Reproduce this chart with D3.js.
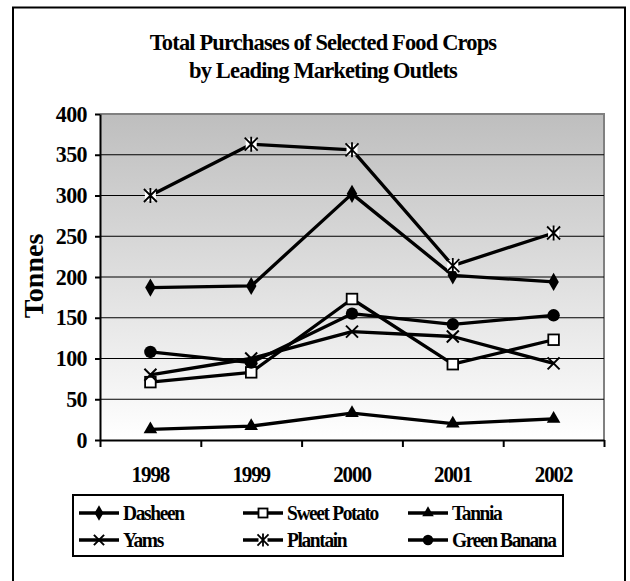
<!DOCTYPE html>
<html>
<head>
<meta charset="utf-8">
<script src="https://cdn.jsdelivr.net/npm/d3@7"></script>
<style>
  body { margin: 0; background: #fff; }
  svg { display: block; }
</style>
</head>
<body>
<div id="chart"></div>
<script>
// data (tonnes)
const years = ["1998", "1999", "2000", "2001", "2002"]
const yTicks = [0, 50, 100, 150, 200, 250, 300, 350, 400]
const dasheen = [187, 189, 302, 202, 194]
const sweetPotato = [71, 83, 173, 93, 123]
const tannia = [13, 17, 33, 20, 26]
const yams = [80, 100, 133, 127, 94]
const plantain = [300, 363, 356, 214, 254]
const greenBanana = [108, 95, 155, 142, 153]

const seriesNames = ["Dasheen", "Sweet Potato", "Tannia", "Yams", "Plantain", "Green Banana"]
const seriesValues = [dasheen, sweetPotato, tannia, yams, plantain, greenBanana]
const seriesMarks = ["diamond", "square", "triangle", "cross", "star", "circle"]

const W = 630, H = 581
const font = '"Liberation Serif", "Times New Roman", Times, serif'

const svg = d3.select("#chart").append("svg").attr("width", W).attr("height", H)

// outer frame (bottom edge runs off the picture)
svg.append("rect").attr("x", 13).attr("y", 7.5).attr("width", 612).attr("height", 590)
  .attr("fill", "#fff").attr("stroke", "#000").attr("stroke-width", 2)

const x = d3.scaleBand().domain(years).range([100, 604])
const y = d3.scaleLinear().domain([0, 400]).range([440, 114])
const cx = d => x(d) + x.bandwidth() / 2

// grey to white background
const grad = svg.append("defs").append("linearGradient").attr("id", "bg")
  .attr("x1", 0).attr("y1", 0).attr("x2", 0).attr("y2", 1)
grad.append("stop").attr("offset", 0).attr("stop-color", "#bebebe")
grad.append("stop").attr("offset", 1).attr("stop-color", "#ffffff")

svg.append("rect").attr("x", 100).attr("y", y(400)).attr("width", 504).attr("height", y(0) - y(400))
  .attr("fill", "url(#bg)")

// plot area top and right edge in grey
svg.append("path").attr("d", `M100,${y(400)}H604V440`).attr("fill", "none")
  .attr("stroke", "#808080").attr("stroke-width", 2)

// gridlines
svg.append("g").selectAll("line").data(yTicks.filter(t => t > 0 && t < 400)).join("line")
  .attr("x1", 100).attr("x2", 604).attr("y1", d => y(d)).attr("y2", d => y(d))
  .attr("stroke", "#000").attr("stroke-width", 1)

// axes (ticks only, labels drawn below)
const yAxis = svg.append("g").attr("transform", "translate(100,0)")
  .call(d3.axisLeft(y).tickValues(yTicks).tickSize(5).tickSizeOuter(0).tickFormat(""))
yAxis.selectAll("path,line").attr("stroke", "#000").attr("stroke-width", 2)

const xAxis = svg.append("g").attr("transform", "translate(0,440)")
  .call(d3.axisBottom(d3.scaleLinear().domain([0, 5]).range([100, 604]))
    .tickValues([0, 1, 2, 3, 4, 5]).tickSize(7).tickSizeOuter(0).tickFormat(""))
xAxis.selectAll("path,line").attr("stroke", "#000").attr("stroke-width", 2)

function label(x0, y0, txt, size, sy, ls, anchor) {
  return svg.append("text")
    .attr("transform", `translate(${x0},${y0}) scale(1,${sy})`)
    .attr("text-anchor", anchor)
    .style("font-family", font).style("font-weight", "bold").style("font-size", size + "px")
    .style("letter-spacing", ls + "px")
    .attr("fill", "#000")
    .text(txt)
}

yTicks.forEach(t => label(87, y(t) + 7.5, t, 22, 1.04, -0.6, "end"))
years.forEach(d => label(cx(d), 481.5, d, 21, 1.06, -1.1, "middle"))

label(323, 49.5, "Total Purchases of Selected Food Crops", 22.5, 1.03, -0.85, "middle")
label(323, 78, "by Leading Marketing Outlets", 22.5, 1.03, -0.85, "middle")

svg.append("text")
  .attr("transform", "translate(43,276) rotate(-90)")
  .attr("text-anchor", "middle")
  .style("font-family", font).style("font-weight", "bold").style("font-size", "28px")
  .text("Tonnes")

// markers
function drawMark(g, kind, px, py, s) {
  if (kind === "diamond") {
    g.append("path").attr("d", d3.symbol(d3.symbolDiamond, 95 * s * s)())
      .attr("transform", `translate(${px},${py})`).attr("fill", "#000")
  } else if (kind === "triangle") {
    g.append("path").attr("d", d3.symbol(d3.symbolTriangle, 80 * s * s)())
      .attr("transform", `translate(${px},${py})`).attr("fill", "#000")
  } else if (kind === "circle") {
    g.append("circle").attr("cx", px).attr("cy", py).attr("r", 6.2 * s).attr("fill", "#000")
  } else if (kind === "square") {
    const h = 5.3 * s
    g.append("rect").attr("x", px - h).attr("y", py - h).attr("width", 2 * h).attr("height", 2 * h)
      .attr("fill", "#fff").attr("stroke", "#000").attr("stroke-width", 1.8)
  } else if (kind === "cross") {
    const h = 6 * s
    g.append("path").attr("d", `M${px - h},${py - h}L${px + h},${py + h}M${px - h},${py + h}L${px + h},${py - h}`)
      .attr("stroke", "#000").attr("stroke-width", 2).attr("fill", "none")
  } else if (kind === "star") {
    const h = 6.5 * s
    g.append("rect").attr("x", px - h + 1).attr("y", py - h + 1).attr("width", 2 * h - 2).attr("height", 2 * h - 2)
      .attr("fill", "#fff")
    g.append("path").attr("d", `M${px - h},${py - h}L${px + h},${py + h}M${px - h},${py + h}L${px + h},${py - h}M${px},${py - h - 1}V${py + h + 1}`)
      .attr("stroke", "#000").attr("stroke-width", 1.8).attr("fill", "none")
  }
}

const line = d3.line().x((d, i) => cx(years[i])).y(d => y(d))

seriesValues.forEach((vals, k) => {
  const g = svg.append("g")
  g.append("path").attr("d", line(vals)).attr("fill", "none")
    .attr("stroke", "#000").attr("stroke-width", 3.3).attr("stroke-linejoin", "round")
  vals.forEach((v, i) => drawMark(g, seriesMarks[k], cx(years[i]), y(v), 1))
})

// legend
svg.append("rect").attr("x", 73).attr("y", 495).attr("width", 490).attr("height", 61)
  .attr("fill", "#fff").attr("stroke", "#000").attr("stroke-width", 2)

const legCols = [79, 243, 408]
const legRows = [513, 540]
seriesNames.forEach((name, k) => {
  const lx = legCols[k % 3], ly = legRows[Math.floor(k / 3)]
  const g = svg.append("g")
  g.append("line").attr("x1", lx).attr("x2", lx + 40).attr("y1", ly).attr("y2", ly)
    .attr("stroke", "#000").attr("stroke-width", 3.3)
  drawMark(g, seriesMarks[k], lx + 20, ly, 0.85)
  label(lx + 44, ly + 7, name, 19.5, 1.1, -1.4, "start")
})
</script>
</body>
</html>
